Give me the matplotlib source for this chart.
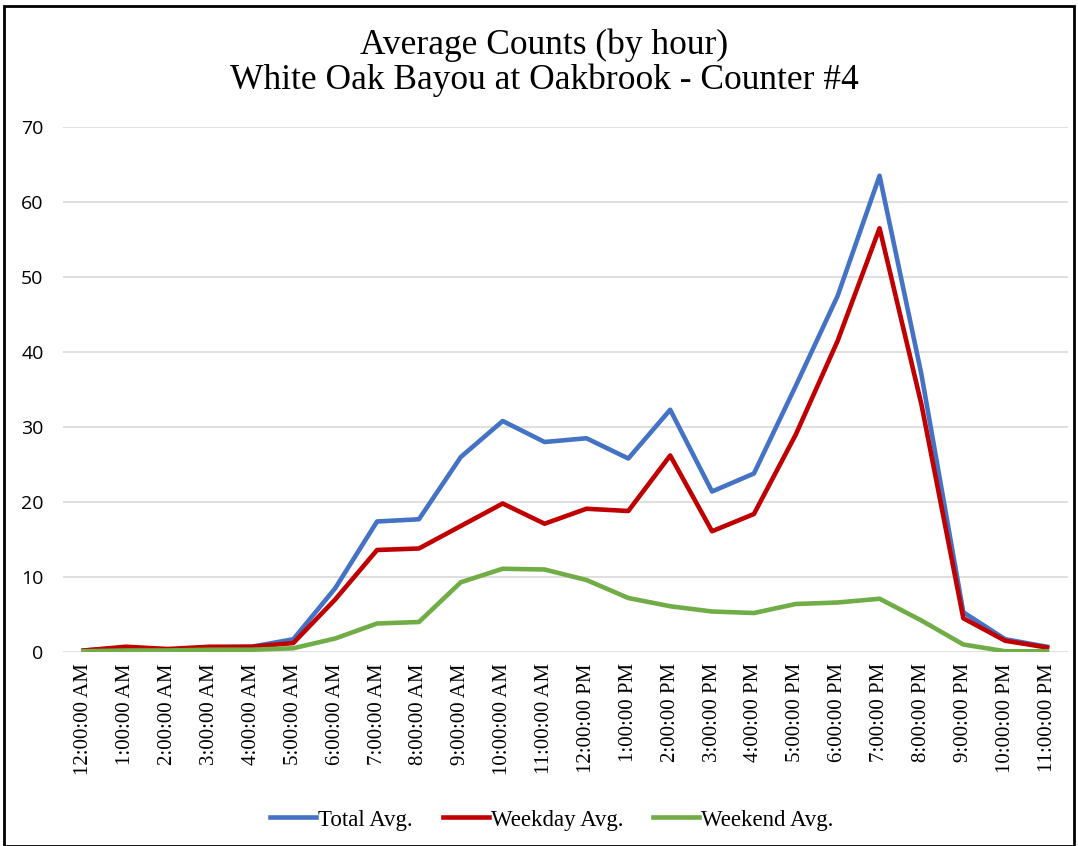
#!/usr/bin/env python3
"""Average hourly counts, White Oak Bayou at Oakbrook counter #4."""

import matplotlib
matplotlib.use("Agg")
import matplotlib.pyplot as plt
from matplotlib.patches import Rectangle

HOURS = [
    "12:00:00 AM", "1:00:00 AM", "2:00:00 AM", "3:00:00 AM", "4:00:00 AM",
    "5:00:00 AM", "6:00:00 AM", "7:00:00 AM", "8:00:00 AM", "9:00:00 AM",
    "10:00:00 AM", "11:00:00 AM", "12:00:00 PM", "1:00:00 PM", "2:00:00 PM",
    "3:00:00 PM", "4:00:00 PM", "5:00:00 PM", "6:00:00 PM", "7:00:00 PM",
    "8:00:00 PM", "9:00:00 PM", "10:00:00 PM", "11:00:00 PM",
]
TOTAL = [0.2, 0.6, 0.3, 0.6, 0.7, 1.7, 8.5, 17.4, 17.7, 26.0, 30.8, 28.0,
         28.5, 25.8, 32.3, 21.4, 23.8, 35.5, 47.5, 63.5, 37.0, 5.3, 1.7, 0.7]
WEEKDAY = [0.2, 0.7, 0.4, 0.7, 0.7, 1.2, 7.0, 13.6, 13.8, 16.8, 19.8, 17.1,
           19.1, 18.8, 26.2, 16.1, 18.4, 29.0, 41.5, 56.5, 33.0, 4.5, 1.5, 0.6]
WEEKEND = [0.1, 0.2, 0.2, 0.3, 0.3, 0.5, 1.8, 3.8, 4.0, 9.3, 11.1, 11.0,
           9.6, 7.2, 6.1, 5.4, 5.2, 6.4, 6.6, 7.1, 4.2, 1.0, 0.1, 0.1]

BLUE = "#4472C4"
RED = "#C00000"
GREEN = "#70AD47"
SERIF = ["Liberation Serif", "DejaVu Serif"]
SANS = ["Open Sans", "DejaVu Sans"]

W, H = 1078, 846
fig = plt.figure(figsize=(W / 100, H / 100), dpi=100)
ax = fig.add_axes([63 / W, 1 - 652 / H, (1068 - 63) / W, (652 - 127) / H])

x = list(range(len(HOURS)))
ax.plot(x, TOTAL, color=BLUE, lw=3.3, label="Total Avg.", solid_joinstyle="round")
ax.plot(x, WEEKDAY, color=RED, lw=3.3, label="Weekday Avg.", solid_joinstyle="round")
ax.plot(x, WEEKEND, color=GREEN, lw=3.3, label="Weekend Avg.", solid_joinstyle="round")

ax.set_xlim(-0.5, len(HOURS) - 0.5)
ax.set_ylim(0, 70)
ax.set_yticks(range(0, 71, 10))
ax.set_xticks(x)
ax.set_xticklabels(HOURS, rotation=90, family=SERIF, fontsize=15)
for lab in ax.get_yticklabels():
    lab.set_family(SANS)
    lab.set_fontsize(14)
ax.tick_params(axis="x", length=0, pad=8)
ax.tick_params(axis="y", length=0, pad=14)
ax.grid(axis="y", color="#D9D9D9", lw=1.2)
ax.set_axisbelow(True)
for s in ax.spines.values():
    s.set_visible(False)

fig.text(0.505, 1 - 45 / H, "Average Counts (by hour)", ha="center", va="center",
         family=SERIF, fontsize=25.5)
fig.text(0.505, 1 - 80 / H, "White Oak Bayou at Oakbrook - Counter #4", ha="center",
         va="center", family=SERIF, fontsize=25.5)

fig.legend(loc="center", bbox_to_anchor=(552 / W, 1 - 820 / H), ncol=3, frameon=False,
           prop={"family": SERIF, "size": 16.5}, handlelength=2.0, handletextpad=0.1,
           columnspacing=1.3)

fig.patches.append(Rectangle((4 / W, 0), (1074 - 4) / W, 1 - 6 / H, fill=False,
                             ec="black", lw=2, transform=fig.transFigure))

fig.savefig("out.png", dpi=100)
